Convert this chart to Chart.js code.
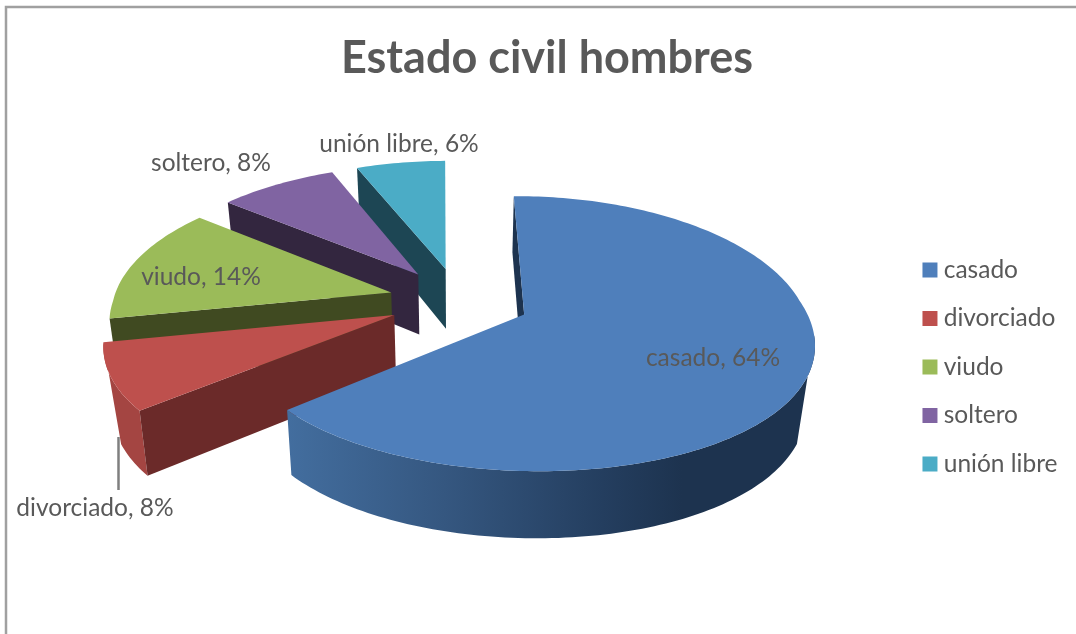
<!DOCTYPE html>
<html>
<head>
<meta charset="utf-8">
<title>Estado civil hombres</title>
<script src="https://cdn.jsdelivr.net/npm/chart.js@4"></script>
<style>
  html, body { margin: 0; padding: 0; background: #fff; }
  #wrap { position: relative; width: 1076px; height: 634px; overflow: hidden; }
</style>
</head>
<body>
<div id="wrap"><canvas id="pie" width="1076" height="634"></canvas></div>
<script>
// ─── Data ────────────────────────────────────────────────────────────────────
const categories = ['casado', 'divorciado', 'viudo', 'soltero', 'unión libre'];
const values     = [64, 8, 14, 8, 6];

// ─── Colours ─────────────────────────────────────────────────────────────────
const topColors  = ['#4f7fbb', '#be504d', '#9bbb59', '#8064a2', '#4bacc6'];
const cutColors  = ['#1d334f', '#6b2a29', '#404a21', '#33263f', '#1d4654'];
const rimColors  = ['#1d334f', '#a44542', '#7f9a49', '#695285', '#3d8da3'];
const TEXT_COLOR = '#595959';
const FONT       = 'Lato, "Open Sans", sans-serif';

// ─── Tilted pie projection ───────────────────────────────────────────────────
const EXPLODE = 60;           // px, along each slice's bisector
const CX = 459, CY = 300.5;   // screen position of the pie centre
const RX = 278, RY = 131;     // screen radii of the top face
const PERSP_NEAR = 0.18;      // nearer points get larger
const PERSP_FAR = 0.137;
const PERSP_Y = 0.137;
const DEPTH = 61;             // wall height

function project(u, v, z) {
  const px = v < 0 ? PERSP_FAR : PERSP_NEAR;
  return {
    x: CX + RX * u / (1 - px * v) * (1 - 0.025 * z),
    y: CY + RY * v / (1 - PERSP_Y * v) + z * DEPTH * (1 + 0.09 * v)
  };
}

function tracePath(ctx, pts) {
  ctx.beginPath();
  pts.forEach((p, i) => (i ? ctx.lineTo(p.x, p.y) : ctx.moveTo(p.x, p.y)));
  ctx.closePath();
}

// Unit-circle outline of one Chart.js arc element, exploded by its offset
function sliceOutline(arc) {
  const { startAngle, endAngle, outerRadius } = arc.getProps(['startAngle', 'endAngle', 'outerRadius'], true);
  const mid = (startAngle + endAngle) / 2;
  const e = arc.options.offset / outerRadius;
  const apex = { u: Math.cos(mid) * e, v: Math.sin(mid) * e };
  const steps = Math.ceil((endAngle - startAngle) / 0.02);
  const rim = [];
  for (let i = 0; i <= steps; i++) {
    const a = startAngle + (endAngle - startAngle) * i / steps;
    rim.push({ u: apex.u + Math.cos(a), v: apex.v + Math.sin(a), facing: Math.sin(a) });
  }
  return {
    apex,
    rim,
    startFaces: -Math.cos(startAngle) > 0, // the straight wall turned to the viewer
    endFaces: Math.cos(endAngle) > 0
  };
}

function drawCut(ctx, a, b, color) {
  const pts = [project(a.u, a.v, 0), project(b.u, b.v, 0), project(b.u, b.v, 1), project(a.u, a.v, 1)];
  tracePath(ctx, pts);
  ctx.fillStyle = color;
  ctx.fill();
}

function rimFill(ctx, i) {
  if (i !== 0) return rimColors[i];
  // the big slice darkens towards the right
  const g = ctx.createLinearGradient(285, 0, 815, 0);
  g.addColorStop(0, '#436e9f');
  g.addColorStop(0.3, '#355780');
  g.addColorStop(0.6, '#243e5f');
  g.addColorStop(0.75, '#1d334f');
  g.addColorStop(1, '#1d334f');
  return g;
}

const pie3d = {
  id: 'pie3d',
  beforeDraw(chart) {
    const { ctx } = chart;
    ctx.save();
    ctx.strokeStyle = '#a0a0a0';
    ctx.lineWidth = 2.5;
    ctx.beginPath();
    ctx.moveTo(6, 634);
    ctx.lineTo(6, 7);
    ctx.lineTo(1076, 7);
    ctx.stroke();
    ctx.restore();
  },
  // the slices are painted here, so Chart.js must not draw its flat version
  beforeDatasetDraw(chart) {
    const { ctx } = chart;
    const arcs = chart.getDatasetMeta(0).data;
    ctx.save();
    [4, 3, 2, 1, 0].forEach(i => {
      const { apex, rim, startFaces, endFaces } = sliceOutline(arcs[i]);

      // the lower edge starts later, so the wall's side is a straight tangent
      const upper = rim.filter(p => p.facing > 0.15).map(p => project(p.u, p.v, 0));
      const lower = rim.filter(p => p.facing > 0.45).map(p => project(p.u, p.v, 1)).reverse();
      if (upper.length > 1 && lower.length > 1) {
        tracePath(ctx, upper.concat(lower));
        ctx.fillStyle = rimFill(ctx, i);
        ctx.fill();
      }

      if (startFaces) drawCut(ctx, apex, rim[0], cutColors[i]);
      if (endFaces) drawCut(ctx, apex, rim[rim.length - 1], cutColors[i]);

      tracePath(ctx, [project(apex.u, apex.v, 0)].concat(rim.map(p => project(p.u, p.v, 0))));
      ctx.fillStyle = topColors[i];
      ctx.fill();
    });
    ctx.restore();
    return false;
  },
  afterDatasetsDraw(chart) {
    const { ctx } = chart;
    const spots = [[713, 358], [95, 508], [201, 277], [211, 163], [399, 144]];
    ctx.save();
    ctx.strokeStyle = '#7f7f7f';
    ctx.lineWidth = 2.5;
    ctx.beginPath();
    ctx.moveTo(118.5, 437);
    ctx.lineTo(118.5, 490);
    ctx.stroke();
    ctx.font = `24.5px ${FONT}`;
    ctx.fillStyle = TEXT_COLOR;
    ctx.textAlign = 'center';
    ctx.textBaseline = 'middle';
    categories.forEach((c, i) => ctx.fillText(`${c}, ${values[i]}%`, spots[i][0], spots[i][1]));
    ctx.restore();
  }
};

// ─── Chart ───────────────────────────────────────────────────────────────────
new Chart(document.getElementById('pie'), {
  type: 'pie',
  plugins: [pie3d],
  data: {
    labels: categories,
    datasets: [{
      data: values,
      backgroundColor: topColors,
      borderWidth: 0,
      offset: EXPLODE
    }]
  },
  options: {
    responsive: false,
    animation: false,
    rotation: -0.5,
    layout: { padding: { left: 26.5, right: 8.5 } },
    plugins: {
      tooltip: { enabled: false },
      title: {
        display: true,
        text: 'Estado civil hombres',
        color: TEXT_COLOR,
        font: { family: FONT, size: 45, weight: 'bold', lineHeight: 1.2 },
        padding: { top: 31, bottom: 15 }
      },
      legend: {
        position: 'right',
        fullSize: false,
        labels: {
          color: TEXT_COLOR,
          font: { family: FONT, size: 24.5 },
          boxWidth: 3,
          boxHeight: 3,
          padding: 24,
          // a thick stroke makes the swatch, which keeps the text close to it
          generateLabels(chart) {
            return Chart.overrides.pie.plugins.legend.labels.generateLabels(chart).map(item => ({
              ...item,
              strokeStyle: item.fillStyle,
              lineWidth: 12
            }));
          }
        }
      }
    }
  }
});
</script>
</body>
</html>
